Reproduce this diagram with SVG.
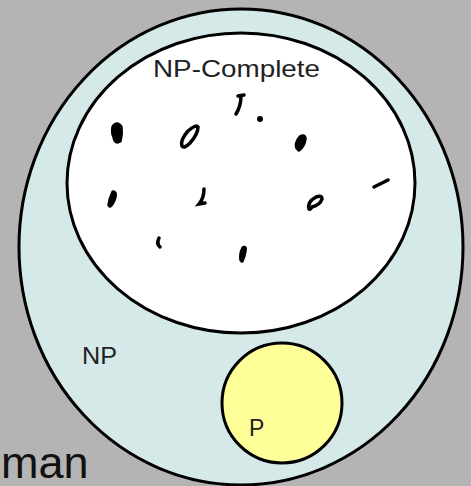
<svg xmlns="http://www.w3.org/2000/svg" width="471" height="486" viewBox="0 0 471 486">
<style>
.set{stroke:#000;stroke-width:3}
.lbl{font-family:"Liberation Sans",Arial,sans-serif;fill:#222}
.blob{fill:#000;stroke:#000;stroke-width:3.5;stroke-linecap:round;stroke-linejoin:round}
.ring{fill:none;stroke:#000;stroke-width:3.5;stroke-linecap:round}
</style>
<rect width="471" height="486" fill="#b4b4b4"/>
<g id="np">
<ellipse class="set" cx="241" cy="247" rx="222" ry="238" fill="#d6e9e9"/>
<text class="lbl" x="82" y="364" font-size="24" textLength="35" lengthAdjust="spacingAndGlyphs">NP</text>
</g>
<g id="np-complete">
<ellipse class="set" cx="241" cy="183" rx="174" ry="150" fill="#fff"/>
<text class="lbl" x="153" y="77" font-size="24" textLength="167" lengthAdjust="spacingAndGlyphs">NP-Complete</text>
<g id="marks">
<path class="blob" d="M113 127 Q117 121 121 127 Q122 134 120 141 Q115 144 114 137 Q112 133 113 127Z"/>
<path class="ring" d="M182 146 Q180 140 188 131 Q196 124 198 127 Q198 134 190 143 Q184 149 182 146Z"/>
<path class="ring" d="M238 96 L244 95 M241 96 Q241 106 236 114"/>
<circle cx="260" cy="119" r="3" fill="#000"/>
<path class="blob" d="M297 148 Q295 143 300 137 Q305 134 305 139 Q304 146 299 150Z"/>
<path class="ring" d="M374 187 L388 180"/>
<path class="blob" d="M109 205 Q110 198 113 192 Q116 192 115 197 Q113 204 110 206Z"/>
<path class="ring" d="M204 189 Q204 198 199 204 L205 203"/>
<path class="ring" d="M309 209 Q307 202 316 197 Q322 195 322 199 Q320 205 312 207 Q310 210 309 209Z"/>
<path class="blob" d="M159 238 Q156 244 160 247"/>
<path class="blob" d="M241 260 Q240 254 243 248 Q246 246 245 251 Q244 257 242 261Z"/>
</g>
</g>
<g id="p">
<circle class="set" cx="282" cy="403" r="60" fill="#ffff99"/>
<text class="lbl" x="249" y="436" font-size="23">P</text>
</g>
<g id="man">
<text x="1" y="478" font-size="45" font-family="Liberation Sans, Arial, sans-serif" fill="#111">man</text>
</g>
</svg>
